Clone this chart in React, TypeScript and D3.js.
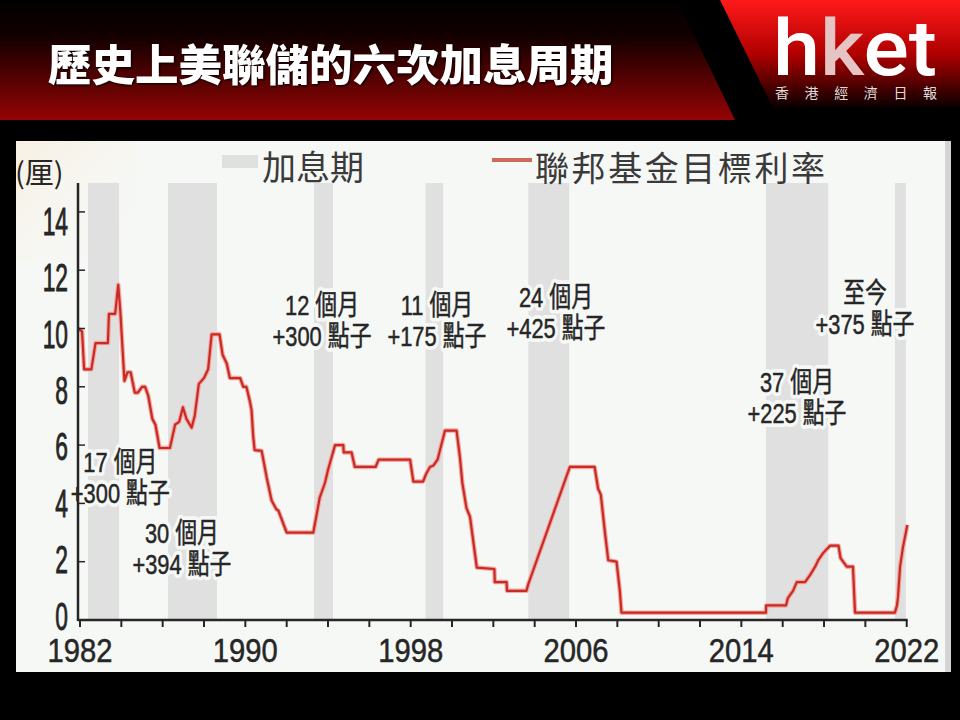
import * as d3 from "d3";

// Fed funds target rate vs. rate-hike cycles (hket graphic)

const WIDTH = 960;
const HEIGHT = 720;

const YEAR_TICKS = d3.range(1982, 2023, 2);
const YEAR_LABELS = [1982, 1990, 1998, 2006, 2014, 2022];
const RATE_TICKS = [0, 2, 4, 6, 8, 10, 12, 14];

// hike periods [start, end] in fractional years
const HIKE_START = [1982.39, 1986.26, 1993.32, 1998.72, 2003.69, 2015.19, 2021.43];
const HIKE_END = [1983.89, 1988.63, 1994.24, 1999.57, 2005.67, 2018.2, 2021.96];

// target rate vertices
const RATE_YEARS = [
  1981.9, 1982.1, 1982.2, 1982.55, 1982.75, 1983.35, 1983.4, 1983.7, 1983.85, 1983.95,
  1984.15, 1984.3, 1984.45, 1984.65, 1984.8, 1985.0, 1985.15, 1985.3, 1985.5, 1985.65,
  1985.85, 1986.35, 1986.6, 1986.8, 1986.98, 1987.15, 1987.4, 1987.55, 1987.75, 1988.0,
  1988.2, 1988.37, 1988.75, 1988.9, 1989.1, 1989.25, 1989.75, 1989.9, 1990.05, 1990.22,
  1990.3, 1990.38, 1990.45, 1990.79, 1991.03, 1991.27, 1991.5, 1991.6, 1991.84, 1992.0,
  1993.29, 1993.6, 1993.85, 1994.0, 1994.18, 1994.34, 1994.74, 1994.76, 1995.14, 1995.3,
  1996.3, 1996.45, 1997.97, 1998.13, 1998.6, 1998.74, 1998.93, 1999.1, 1999.3, 1999.66,
  2000.22, 2000.38, 2000.5, 2000.7, 2000.87, 2001.2, 2002.05, 2002.07, 2002.64, 2002.66,
  2003.6, 2003.7, 2005.7, 2006.9, 2007.07, 2007.2, 2007.4, 2007.56, 2007.96, 2008.12,
  2008.2, 2015.19, 2015.2, 2016.16, 2016.25, 2016.5, 2016.68, 2017.08, 2017.33, 2017.57,
  2017.72, 2017.96, 2018.29, 2018.7, 2018.8, 2019.1, 2019.4, 2019.5, 2021.43, 2021.53,
  2021.58, 2021.68, 2021.82, 2022.03,
];
const RATE_VALUES = [
  10.0, 9.9, 8.6, 8.6, 9.5, 9.5, 10.5, 10.5, 11.5, 10.6,
  8.2, 8.5, 8.5, 7.8, 7.8, 8.0, 8.0, 7.7, 6.9, 6.7,
  5.9, 5.9, 6.7, 6.8, 7.3, 6.9, 6.6, 7.0, 8.1, 8.3,
  8.6, 9.8, 9.8, 9.1, 8.8, 8.3, 8.3, 8.0, 8.0, 7.5,
  7.2, 6.3, 5.83, 5.8, 4.9, 4.1, 3.8, 3.75, 3.3, 3.0,
  3.0, 4.2, 4.7, 5.15, 5.6, 6.0, 6.0, 5.75, 5.75, 5.25,
  5.25, 5.5, 5.5, 4.75, 4.75, 5.0, 5.25, 5.3, 5.5, 6.5,
  6.5, 5.6, 4.7, 3.84, 3.54, 1.8, 1.75, 1.3, 1.3, 1.0,
  1.0, 1.25, 5.25, 5.25, 4.5, 4.3, 3.0, 2.05, 2.0, 1.0,
  0.25, 0.25, 0.5, 0.5, 0.75, 1.0, 1.3, 1.3, 1.55, 1.83,
  2.05, 2.3, 2.55, 2.55, 2.12, 1.83, 1.83, 0.25, 0.25, 0.5,
  0.8, 1.83, 2.5, 3.26,
];

// annotation text, anchored in data units (year, rate of first baseline)
const NOTE_TOP = ["17 個月", "30 個月", "12 個月", "11 個月", "24 個月", "37 個月", "至今"];
const NOTE_BOTTOM = ["+300 點子", "+394 點子", "+300 點子", "+175 點子", "+425 點子", "+225 點子", "+375 點子"];
const NOTE_YEAR = [1983.95, 1986.93, 1993.71, 1999.27, 2005.03, 2016.69, 2019.98];
const NOTE_RATE = [5.08, 2.64, 10.46, 10.46, 10.74, 7.82, 10.87];

const TITLE = "歷史上美聯儲的六次加息周期";
const UNIT = "(厘)";
const LEGEND_BAND = "加息期";
const LEGEND_LINE = "聯邦基金目標利率";

const NUM_FONT = "'Liberation Sans', Arimo, 'Noto Sans CJK TC', sans-serif";
const CJK_FONT = "'Noto Sans CJK TC', 'Noto Sans CJK SC', sans-serif";
const BG = "#f6f8f6";
const INK = "#262626";

const x = d3.scaleLinear().domain([1982, 2022]).range([80, 906.7]);
const y = d3.scaleLinear().domain([0, 14]).range([620, 211.9]);
// tick labels in the original sit on a slightly tighter spacing than the ticks
const yLabel = d3.scaleLinear().domain([0, 14]).range([616, 221]);

// text squeezed horizontally, like the condensed face in the original
const Narrow = ({ x, y, sx, children, ...rest }: any) => (
  <text transform={`translate(${x},${y}) scale(${sx},1)`} {...rest}>
    {children}
  </text>
);

const Notes = ({ halo }: { halo: boolean }) => (
  <g
    fontFamily={NUM_FONT}
    fontSize={28}
    fill={INK}
    textAnchor="middle"
    stroke={halo ? BG : INK}
    strokeWidth={halo ? 8 : 0.5}
    strokeLinejoin="round"
  >
    {NOTE_TOP.map((t, i) => (
      <g key={i}>
        <Narrow x={x(NOTE_YEAR[i])} y={y(NOTE_RATE[i])} sx={0.78}>
          {t}
        </Narrow>
        <Narrow x={x(NOTE_YEAR[i])} y={y(NOTE_RATE[i]) + 31} sx={0.78}>
          {NOTE_BOTTOM[i]}
        </Narrow>
      </g>
    ))}
  </g>
);

const App = () => {
  const points = RATE_YEARS.map((yr, i) => [yr, RATE_VALUES[i]] as [number, number]);
  const line = d3
    .line<[number, number]>()
    .x((d) => x(d[0]))
    .y((d) => y(d[1]));

  const axisTop = 183;

  return (
    <svg
      width={WIDTH}
      height={HEIGHT}
      style={{ position: "absolute", left: 0, top: 0, background: "#000" }}
    >
      <defs>
        <linearGradient id="banner" x1="0" y1="0" x2="0" y2="1">
          <stop offset="0" stopColor="#000" />
          <stop offset="0.3" stopColor="#120000" />
          <stop offset="1" stopColor="#950404" />
        </linearGradient>
        <linearGradient id="logo" x1="0" y1="0" x2="0" y2="1">
          <stop offset="0" stopColor="#ff1a1a" />
          <stop offset="0.5" stopColor="#b00000" />
          <stop offset="1" stopColor="#080000" />
        </linearGradient>
        <linearGradient id="warm" x1="0" y1="0" x2="1" y2="1">
          <stop offset="0" stopColor="#f8f0e2" />
          <stop offset="1" stopColor={BG} stopOpacity="0" />
        </linearGradient>
      </defs>

      {/* header */}
      <rect x={0} y={0} width={WIDTH} height={HEIGHT} fill="#000" />
      <polygon points="0,0 677,0 735,120 0,120" fill="url(#banner)" />
      <polygon points="720,0 960,0 960,108 773,108" fill="url(#logo)" />
      <text
        x={48}
        y={81}
        fill="#fff"
        fontFamily={CJK_FONT}
        fontWeight={900}
        fontSize={43.5}
        style={{ filter: "drop-shadow(1px 1px 1px #000)" }}
      >
        {TITLE}
      </text>
      <text
        x={773}
        y={75}
        fill="#fff"
        fontFamily="Roboto, 'Open Sans', sans-serif"
        fontWeight={500}
        fontSize={78}
        textLength={164}
        lengthAdjust="spacingAndGlyphs"
      >
        h<tspan fill="#e7c4c4">k</tspan>et
      </text>
      <text
        x={775}
        y={98}
        fill="#ddd"
        fontFamily={CJK_FONT}
        fontSize={14}
        textLength={162}
        lengthAdjust="spacing"
      >
        香港經濟日報
      </text>

      {/* chart panel */}
      <rect x={16} y={141} width={931} height={531} fill={BG} />
      <rect x={16} y={141} width={120} height={120} fill="url(#warm)" />
      <rect x={945} y={141} width={6} height={531} fill="#d4d4d4" />

      {/* hike bands */}
      {HIKE_START.map((s, i) => (
        <rect
          key={i}
          x={x(s)}
          y={axisTop}
          width={x(HIKE_END[i]) - x(s)}
          height={y(0) - axisTop}
          fill="#e0e0e0"
        />
      ))}

      {/* annotations: background halo first, then the ink */}
      <Notes halo={true} />
      <Notes halo={false} />

      {/* rate line */}
      <path d={line(points) ?? ""} fill="none" stroke="#f0a8a0" strokeWidth={4.5} strokeLinejoin="round" />
      <path d={line(points) ?? ""} fill="none" stroke="#c92a25" strokeWidth={2.2} strokeLinejoin="round" />

      {/* axes */}
      <g stroke={INK} strokeWidth={2.5}>
        <line x1={78} x2={78} y1={axisTop} y2={y(0) + 1} />
        <line x1={78} x2={x(2022) + 1} y1={y(0)} y2={y(0)} />
        {RATE_TICKS.filter((v) => v > 0).map((v) => (
          <line key={v} x1={78} x2={85} y1={y(v)} y2={y(v)} strokeWidth={1.5} />
        ))}
        {YEAR_TICKS.map((yr) => (
          <line key={yr} x1={x(yr)} x2={x(yr)} y1={y(0)} y2={y(0) + 7} strokeWidth={2} />
        ))}
      </g>
      <g fontFamily={NUM_FONT} fontSize={38} fill={INK} textAnchor="end" stroke={INK} strokeWidth={0.9}>
        {RATE_TICKS.map((v) => (
          <Narrow key={v} x={68} y={yLabel(v)} sx={0.6} dy="0.36em">
            {v}
          </Narrow>
        ))}
      </g>
      <g fontFamily={NUM_FONT} fontSize={34} fill={INK} textAnchor="middle" stroke={INK} strokeWidth={0.5}>
        {YEAR_LABELS.map((yr) => (
          <Narrow key={yr} x={x(yr)} y={662} sx={0.86}>
            {yr}
          </Narrow>
        ))}
      </g>
      <text x={15} y={184} fontFamily={CJK_FONT} fontSize={29} fill={INK}>
        {UNIT}
      </text>

      {/* legend */}
      <rect x={222} y={155} width={36} height={13} fill="#e0e0e0" />
      <text x={262} y={180} fontFamily={CJK_FONT} fontSize={34} fill="#3a3a3a">
        {LEGEND_BAND}
      </text>
      <line x1={492} x2={532} y1={160} y2={160} stroke="#d2685c" strokeWidth={4} />
      <text
        x={535}
        y={181}
        fontFamily={CJK_FONT}
        fontSize={34}
        fill="#3a3a3a"
        textLength={290}
        lengthAdjust="spacing"
      >
        {LEGEND_LINE}
      </text>
    </svg>
  );
};

export default App;
